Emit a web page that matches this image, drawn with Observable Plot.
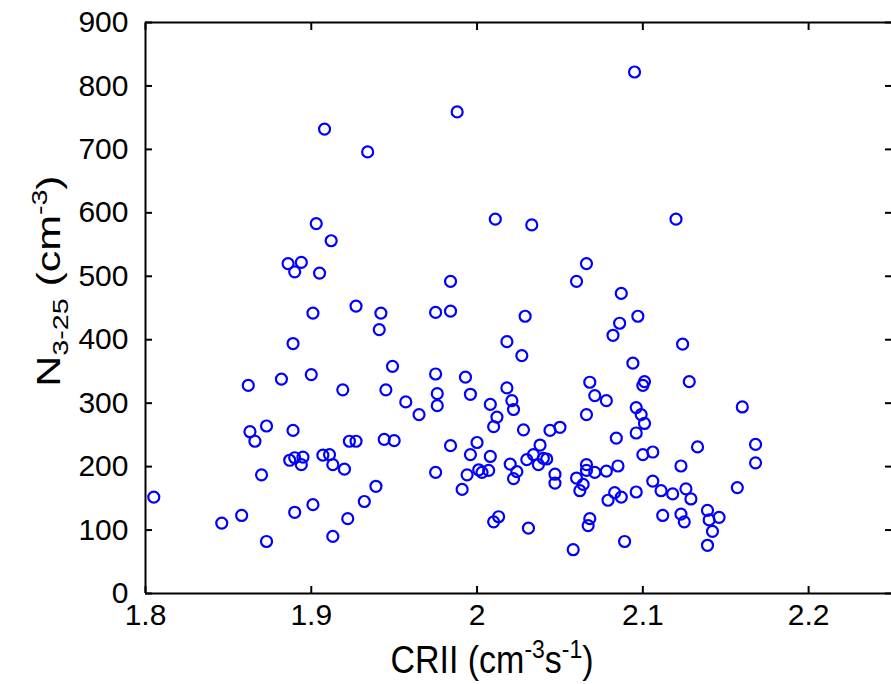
<!DOCTYPE html>
<html>
<head>
<meta charset="utf-8">
<script src="https://cdn.jsdelivr.net/npm/d3@7"></script>
<script src="https://cdn.jsdelivr.net/npm/@observablehq/plot@0.6"></script>
<style>
  html, body { margin: 0; padding: 0; background: #fff; overflow: hidden; }
  #chart svg { display: block; }
</style>
</head>
<body>
<div id="chart"></div>
<script>
// CRII (cm^-3 s^-1)
const crii = [
  1.908, 1.934, 1.903, 1.912, 1.886, 1.894, 1.890, 1.905, 1.927, 1.901,
  1.942, 1.988, 2.011, 2.033, 2.066, 2.060, 2.087, 1.984, 1.975, 1.984,
  2.029, 2.095, 2.120, 2.097, 1.941, 1.889, 1.862, 1.882, 1.900, 1.919,
  1.945, 1.873, 1.863, 1.866, 1.889, 1.887, 1.890, 1.895, 1.894, 1.907,
  1.911, 1.913, 1.920, 1.923, 1.927, 1.944, 1.870, 1.805, 1.939, 1.932,
  1.901, 1.890, 1.858, 1.846, 1.922, 1.913, 1.873, 2.086, 2.082, 2.018,
  2.027, 1.949, 1.975, 1.993, 1.976, 1.976, 1.996, 1.957, 1.965, 2.018,
  2.008, 2.021, 2.022, 2.012, 2.010, 2.028, 2.044, 2.050, 2.066, 2.068,
  2.071, 2.078, 2.084, 1.950, 1.984, 2.000, 1.996, 2.008, 1.975, 1.994,
  2.001, 2.003, 2.007, 1.991, 2.020, 2.024, 2.022, 2.030, 2.034, 2.038,
  2.037, 2.040, 2.042, 2.047, 2.047, 2.060, 2.066, 2.066, 2.071, 2.064,
  2.062, 2.078, 2.085, 2.079, 2.083, 2.087, 2.010, 2.013, 2.031, 2.068,
  2.067, 2.058, 2.089, 2.124, 2.094, 2.101, 2.100, 2.128, 2.160, 2.096,
  2.099, 2.101, 2.096, 2.168, 2.168, 2.133, 2.100, 2.106, 2.123, 2.157,
  2.096, 2.106, 2.111, 2.118, 2.126, 2.129, 2.112, 2.123, 2.125, 2.139,
  2.140, 2.146, 2.142, 2.139
];
// N3-25 (cm^-3)
const n325 = [
  732, 696, 583, 556, 520, 522, 507, 505, 453, 442,
  442, 759, 590, 581, 520, 492, 473, 492, 443, 445,
  437, 822, 590, 437, 416, 394, 328, 338, 345, 321,
  321, 264, 255, 240, 257, 210, 214, 215, 203, 218,
  219, 203, 196, 240, 240, 243, 187, 152, 169, 145,
  140, 128, 123, 111, 118, 90, 82, 426, 407, 397,
  375, 358, 346, 341, 315, 296, 314, 302, 282, 324,
  298, 304, 290, 278, 263, 258, 257, 262, 282, 333,
  312, 304, 245, 241, 233, 238, 219, 216, 191, 187,
  195, 191, 194, 164, 204, 192, 181, 211, 219, 234,
  203, 213, 212, 188, 174, 182, 203, 194, 191, 172,
  162, 193, 201, 147, 159, 152, 113, 121, 103, 118,
  107, 69, 82, 393, 363, 334, 328, 334, 294, 293,
  282, 268, 253, 235, 206, 231, 219, 223, 201, 167,
  160, 177, 162, 157, 165, 149, 123, 125, 113, 131,
  116, 120, 98, 76
];
const xTicks = [1.8, 1.9, 2.0, 2.1, 2.2];
const yTicks = [0, 100, 200, 300, 400, 500, 600, 700, 800, 900];
const xDomain = [1.8, 2.25];
const yDomain = [0, 900];

const points = crii.map((x, i) => ({x, y: n325[i]}));

const font = "Liberation Sans, Arial, Helvetica, sans-serif";

const chart = Plot.plot({
  width: 891,
  height: 684,
  marginLeft: 145,
  marginRight: 0,
  marginTop: 22,
  marginBottom: 91,
  style: {fontFamily: font, background: "#fff", overflow: "visible"},
  x: {domain: xDomain},
  y: {domain: yDomain},
  marks: [
    Plot.axisX({anchor: "bottom", ticks: xTicks, tickFormat: d => String(+d.toFixed(1)), tickSize: -7, tickPadding: 17, fontSize: 30, label: null, strokeWidth: 2}),
    Plot.axisX({anchor: "top", ticks: xTicks, tickFormat: () => "", tickSize: -7, label: null, strokeWidth: 2}),
    Plot.axisY({anchor: "left", ticks: yTicks, tickFormat: d => String(d), tickSize: -7, tickPadding: 24, fontSize: 30, label: null, strokeWidth: 2}),
    Plot.axisY({anchor: "right", ticks: yTicks, tickFormat: () => "", tickSize: -7, label: null, strokeWidth: 2}),
    Plot.ruleY([yDomain[0]], {stroke: "#000", strokeWidth: 2}),
    Plot.ruleY([yDomain[1]], {stroke: "#000", strokeWidth: 2}),
    Plot.ruleX([xDomain[0]], {stroke: "#000", strokeWidth: 2}),
    Plot.dot(points, {x: "x", y: "y", r: 5.5, stroke: "#0000ff", strokeWidth: 2.2, fill: "none"})
  ]
});

document.getElementById("chart").appendChild(chart);

// Axis titles with sub/superscripts
const svg = d3.select(chart);
const xl = svg.append("text")
  .attr("transform", "translate(492,673) scale(1,1.12)")
  .attr("text-anchor", "middle")
  .attr("font-family", font).attr("font-size", 34).attr("fill", "#000");
xl.append("tspan").text("CRII (cm");
xl.append("tspan").attr("dy", -13).attr("font-size", 23).text("-3");
xl.append("tspan").attr("dy", 13).text("s");
xl.append("tspan").attr("dy", -13).attr("font-size", 23).text("-1");
xl.append("tspan").attr("dy", 13).text(")");

const yl = svg.append("text")
  .attr("transform", "translate(60,281) rotate(-90) scale(1.3,1)")
  .attr("text-anchor", "middle")
  .attr("font-family", font).attr("font-size", 33).attr("fill", "#000");
yl.append("tspan").text("N");
yl.append("tspan").attr("dy", 8).attr("font-size", 22).text("3-25");
yl.append("tspan").attr("dy", -8).text(" (cm");
yl.append("tspan").attr("dy", -13).attr("font-size", 22).text("-3");
yl.append("tspan").attr("dy", 13).text(")");
</script>
</body>
</html>
